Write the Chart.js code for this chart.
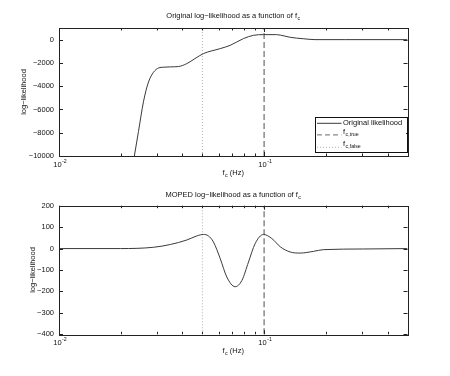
<!DOCTYPE html>
<html>
<head>
<meta charset="utf-8">
<script src="https://cdn.jsdelivr.net/npm/chart.js@4.4.0/dist/chart.umd.min.js"></script>
<style>
  body { margin: 0; background: #fff; }
  #wrap { position: relative; width: 450px; height: 376px; }
  canvas { position: absolute; left: 0; }
</style>
</head>
<body>
<div id="wrap">
  <canvas id="chartTop" width="450" height="188" style="top:0"></canvas>
  <canvas id="chartBottom" width="450" height="188" style="top:188px"></canvas>
</div>
<script>
/* values */
const origFreq = [0.0233, 0.0244, 0.0258, 0.0273, 0.0289, 0.0306, 0.0323, 0.0350, 0.0383, 0.0420, 0.0460,
                  0.0506, 0.0611, 0.0683, 0.0793, 0.0887, 0.0993, 0.115, 0.125, 0.134, 0.155, 0.177, 0.25, 0.5];
const origLL = [-10000, -7900, -5350, -3650, -2800, -2430, -2370, -2340, -2310, -2060, -1630,
                -1200, -770, -490, 90, 370, 430, 430, 320, 200, 80, 0, 0, 0];

const mopedFreq = [0.01, 0.0199, 0.0289, 0.0349, 0.0420, 0.0470, 0.0506, 0.0535, 0.0566, 0.0611, 0.0658, 0.0722,
                   0.0779, 0.0839, 0.0904, 0.0993, 0.109, 0.120, 0.134, 0.150, 0.174, 0.195, 0.305, 0.5];
const mopedLL = [0, 0, 6, 19, 40, 59, 66, 59, 31, -47, -133, -178,
                 -149, -63, 23, 66, 47, 8, -16, -21, -13, -5, -2, 0];

const fcTrue = 0.1;
const fcFalse = 0.05;

const xRange = [0.01, 0.5];
const xMajorTicks = [0.01, 0.1];
const xMajorLabels = [['10', '-2'], ['10', '-1']];
const xMinorTicks = [0.02, 0.03, 0.04, 0.05, 0.06, 0.07, 0.08, 0.09, 0.2, 0.3, 0.4];

const topYRange = [-10000, 1000];
const topYTicks = [-10000, -8000, -6000, -4000, -2000, 0];
const bottomYRange = [-400, 200];
const bottomYTicks = [-400, -300, -200, -100, 0, 100, 200];

const FONT = '"Liberation Sans", Arial, Helvetica, sans-serif';

/* draws "base" with a subscript or superscript, starting at x */
function drawScript(ctx, base, small, x, y, size, up) {
  ctx.font = size + 'px ' + FONT;
  ctx.fillText(base, x, y);
  const w = ctx.measureText(base).width;
  ctx.font = (size * 0.7) + 'px ' + FONT;
  ctx.fillText(small, x + w + 0.5, up ? y - size * 0.45 : y + size * 0.35);
  return w + 0.5 + ctx.measureText(small).width;
}

function scriptWidth(ctx, base, small, size) {
  ctx.font = size + 'px ' + FONT;
  const w = ctx.measureText(base).width;
  ctx.font = (size * 0.7) + 'px ' + FONT;
  return w + 0.5 + ctx.measureText(small).width;
}

function toMinus(v) {
  return String(v).replace('-', '\u2212');
}

/* MATLAB look: boxed axes, inward ticks, titles and legend with sub/superscripts */
const matlabAxes = {
  id: 'matlabAxes',
  afterDraw(chart, args, opts) {
    const ctx = chart.ctx;
    const a = chart.chartArea;
    const xs = chart.scales.x, ys = chart.scales.y;
    ctx.save();
    ctx.strokeStyle = '#222';
    ctx.lineWidth = 1;
    ctx.beginPath();
    xMinorTicks.forEach(v => {
      const px = Math.round(xs.getPixelForValue(v)) + 0.5;
      ctx.moveTo(px, a.bottom); ctx.lineTo(px, a.bottom - 2.5);
      ctx.moveTo(px, a.top); ctx.lineTo(px, a.top + 2.5);
    });
    xMajorTicks.forEach(v => {
      const px = Math.round(xs.getPixelForValue(v)) + 0.5;
      ctx.moveTo(px, a.bottom); ctx.lineTo(px, a.bottom - 4);
      ctx.moveTo(px, a.top); ctx.lineTo(px, a.top + 4);
    });
    ys.ticks.forEach(t => {
      const py = Math.round(ys.getPixelForValue(t.value)) + 0.5;
      ctx.moveTo(a.left, py); ctx.lineTo(a.left + 4, py);
      ctx.moveTo(a.right, py); ctx.lineTo(a.right - 4, py);
    });
    ctx.stroke();
    ctx.strokeRect(Math.round(a.left) + 0.5, Math.round(a.top) + 0.5,
                   Math.round(a.right - a.left), Math.round(a.bottom - a.top));

    ctx.fillStyle = '#111';
    ctx.textBaseline = 'middle';
    ctx.textAlign = 'left';
    // x tick labels 10^-2 / 10^-1
    xMajorTicks.forEach((v, i) => {
      const px = xs.getPixelForValue(v);
      const w = scriptWidth(ctx, xMajorLabels[i][0], xMajorLabels[i][1], 7.5);
      drawScript(ctx, xMajorLabels[i][0], xMajorLabels[i][1], px - w / 2 + 1, a.bottom + 9, 7.5, true);
    });

    // title
    const cx = (a.left + a.right) / 2;
    const tw = scriptWidth(ctx, opts.title, 'c', 7.5);
    drawScript(ctx, opts.title, 'c', cx - tw / 2, opts.titleY, 7.5, false);

    // x label f_c (Hz)
    const w1 = scriptWidth(ctx, 'f', 'c', 7.5);
    ctx.font = '7.5px ' + FONT;
    const w2 = ctx.measureText(' (Hz)').width;
    const lx = cx - (w1 + w2) / 2;
    drawScript(ctx, 'f', 'c', lx, a.bottom + 17, 7.5, false);
    ctx.font = '7.5px ' + FONT;
    ctx.fillText(' (Hz)', lx + w1, a.bottom + 17);

    // y label
    ctx.save();
    ctx.translate(opts.yLabelX, (a.top + a.bottom) / 2);
    ctx.rotate(-Math.PI / 2);
    ctx.textAlign = 'center';
    ctx.font = '7.5px ' + FONT;
    ctx.fillText('log\u2212likelihood', 0, 0);
    ctx.restore();

    // legend
    const lg = opts.legend;
    ctx.fillStyle = '#fff';
    ctx.fillRect(lg.left, lg.top, lg.width, lg.height);
    ctx.strokeStyle = '#111';
    ctx.lineWidth = 1;
    ctx.setLineDash([]);
    ctx.strokeRect(Math.round(lg.left) + 0.5, Math.round(lg.top) + 0.5, Math.round(lg.width), Math.round(lg.height));
    lg.rows.forEach(r => {
      const ry = lg.top + r.dy;
      ctx.strokeStyle = r.color;
      ctx.lineWidth = r.width;
      ctx.setLineDash(r.dash);
      ctx.beginPath();
      ctx.moveTo(lg.left + lg.lineFrom, ry);
      ctx.lineTo(lg.left + lg.lineTo, ry);
      ctx.stroke();
      ctx.setLineDash([]);
      ctx.fillStyle = '#111';
      if (r.sub) {
        drawScript(ctx, r.label, r.sub, lg.left + lg.textX, ry - 3, 7.5, false);
      } else {
        ctx.font = '7.5px ' + FONT;
        ctx.fillText(r.label, lg.left + lg.textX, ry);
      }
    });
    ctx.restore();
  }
};

function makeOptions(yRange, yTicks, pad, xHeight, extra) {
  return {
    responsive: false,
    animation: false,
    devicePixelRatio: 1,
    layout: { padding: pad },
    plugins: {
      legend: { display: false },
      tooltip: { enabled: false },
      matlabAxes: extra
    },
    scales: {
      x: {
        type: 'logarithmic',
        min: xRange[0],
        max: xRange[1],
        grid: { display: false, drawTicks: false },
        border: { display: false },
        ticks: { display: false },
        afterFit(scale) { scale.height = xHeight; }
      },
      y: {
        type: 'linear',
        min: yRange[0],
        max: yRange[1],
        grid: { display: false, drawTicks: false },
        border: { display: false },
        afterBuildTicks(scale) { scale.ticks = yTicks.map(v => ({ value: v })); },
        afterFit(scale) { scale.width = 59; },
        ticks: {
          padding: 5,
          color: '#111',
          font: { family: FONT, size: 7.5 },
          callback: v => toMinus(v)
        }
      }
    }
  };
}

function vline(f, yRange, dash, color, width) {
  return {
    data: [{ x: f, y: yRange[0] }, { x: f, y: yRange[1] }],
    borderColor: color,
    borderWidth: width,
    borderDash: dash,
    pointRadius: 0,
    fill: false
  };
}

const topCurve = origFreq.map((f, i) => ({ x: f, y: origLL[i] }));
const bottomCurve = mopedFreq.map((f, i) => ({ x: f, y: mopedLL[i] }));

new Chart(document.getElementById('chartTop'), {
  type: 'line',
  data: {
    datasets: [
      { data: topCurve, borderColor: '#3a3a3a', borderWidth: 1, pointRadius: 0, cubicInterpolationMode: 'monotone', fill: false },
      vline(fcTrue, topYRange, [6, 3], '#8a8a8a', 1.5),
      vline(fcFalse, topYRange, [1, 2], '#b0b0b0', 1)
    ]
  },
  options: makeOptions(topYRange, topYTicks, { left: 0, right: 42.5, top: 28, bottom: 0 }, 32, {
    title: 'Original log\u2212likelihood as a function of f',
    titleY: 16,
    yLabelX: 24,
    legend: {
      left: 314.5, top: 117.3, width: 91.5, height: 35.4,
      lineFrom: 2.5, lineTo: 27, textX: 28.5,
      rows: [
        { label: 'Original likelihood', dy: 6, color: '#3a3a3a', width: 1, dash: [] },
        { label: 'f', sub: 'c,true', dy: 17.5, color: '#8a8a8a', width: 1.2, dash: [5, 3] },
        { label: 'f', sub: 'c,false', dy: 30, color: '#b0b0b0', width: 1, dash: [1, 2] }
      ]
    }
  }),
  plugins: [matlabAxes]
});

new Chart(document.getElementById('chartBottom'), {
  type: 'line',
  data: {
    datasets: [
      { data: bottomCurve, borderColor: '#3a3a3a', borderWidth: 1, pointRadius: 0, cubicInterpolationMode: 'monotone', fill: false },
      vline(fcTrue, bottomYRange, [6, 3], '#8a8a8a', 1.5),
      vline(fcFalse, bottomYRange, [1, 2], '#b0b0b0', 1)
    ]
  },
  options: makeOptions(bottomYRange, bottomYTicks, { left: 0, right: 42.5, top: 17.7, bottom: 0 }, 41.7, {
    title: 'MOPED log\u2212likelihood as a function of f',
    titleY: 7,
    yLabelX: 33,
    legend: {
      left: 314, top: 295, width: 93, height: 36.7,
      lineFrom: 4, lineTo: 23, textX: 26.5,
      rows: [
        { label: 'MOPED likelihood', dy: 6, color: '#9a9a9a', width: 2, dash: [] },
        { label: 'f', sub: 'c,true', dy: 17.7, color: '#8a8a8a', width: 1.2, dash: [5, 3] },
        { label: 'f', sub: 'c,false', dy: 28.7, color: '#b0b0b0', width: 1, dash: [1, 2] }
      ]
    }
  }),
  plugins: [matlabAxes]
});
</script>
</body>
</html>
